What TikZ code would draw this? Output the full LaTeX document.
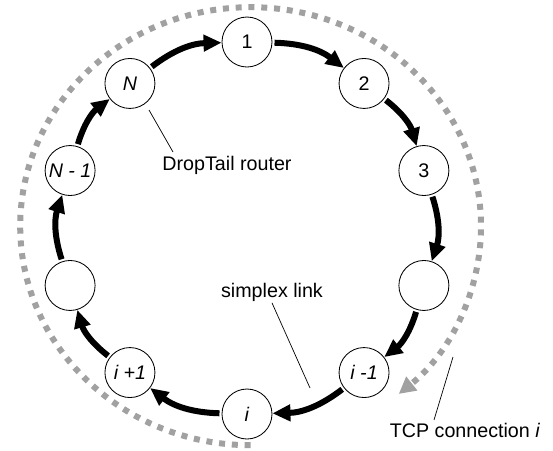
\documentclass[tikz,border=0pt]{standalone}
\usepackage{fontspec}
\setmainfont{Liberation Sans}
\usetikzlibrary{arrows.meta}
\tikzset{
	router/.style  = {draw, circle, line width=0.6pt, minimum size=1.25cm,
		inner sep=0pt, font=\fontsize{14}{16}\selectfont},
	link/.style    = {line width=0.15cm, shorten <=1.5pt, bend left=18,
		-{Triangle[length=0.45cm,width=0.4cm]}},
	flow/.style    = {draw=black!37, line width=0.15cm,
		dash pattern=on 0.15cm off 0.17cm,
		-{Triangle[length=0.42cm,width=0.42cm]}},
	note/.style    = {font=\fontsize{14}{16}\selectfont, inner sep=1pt},
	leader/.style  = {line width=0.5pt}
}

\begin{document}
\begin{tikzpicture}[auto, >=latex]
	\useasboundingbox (-6.175,-5.55) rectangle (7.65,5.7);

	% ring of routers
	\draw
	node at (90:4.65)   [router] (n1)  {1}
	node at (51:4.65)   [router] (n2)  {2}
	node at (18:4.65)   [router] (n3)  {3}
	node at (-18:4.65)  [router] (ra)  {}
	node at (-51:4.65)  [router] (im1) {\textit{i -1}}
	node at (-90:4.65)  [router] (ni)  {\textit{i}}
	node at (-129:4.65) [router] (ip1) {\textit{i +1}}
	node at (-162:4.65) [router] (rb)  {}
	node at (162:4.65)  [router] (nm1) {\textit{N - 1}}
	node at (129:4.65)  [router] (nN)  {\textit{N}};

	% simplex links
	\draw[link] (n1) to (n2);
	\draw[link] (n2) to (n3);
	\draw[link] (n3) to (ra);
	\draw[link] (ra) to (im1);
	\draw[link] (im1) to (ni);
	\draw[link] (ni) to (ip1);
	\draw[link] (ip1) to (rb);
	\draw[link] (rb) to (nm1);
	\draw[link] (nm1) to (nN);
	\draw[link] (nN) to (n1);

	% TCP connection around the ring
	\coordinate (ringstart) at (0.09,-5.43);
	\draw[flow] (ringstart) arc[start angle=270, end angle=-50,
		x radius=5.76cm, y radius=5.475cm];

	% labels
	\node[note] (droptail) at (-0.5,1.575) {DropTail router};
	\node[note] (simplex) at (0.625,-1.6) {simplex link};
	\node[note] (tcp) at (5.45,-5.05) {TCP connection \textit{i}};

	\coordinate (dtfrom) at (-2.45,2.95);
	\coordinate (dtto) at (-1.85,1.9);
	\coordinate (slto) at (1.575,-4.0);
	\coordinate (tcpfrom) at (5.15,-3.225);
	\coordinate (tcpto) at (4.675,-4.8);

	\draw[leader] (dtfrom) -- (dtto);
	\draw[leader] (simplex.south) -- (slto);
	\draw[leader] (tcpfrom) -- (tcpto);
\end{tikzpicture}
\end{document}
